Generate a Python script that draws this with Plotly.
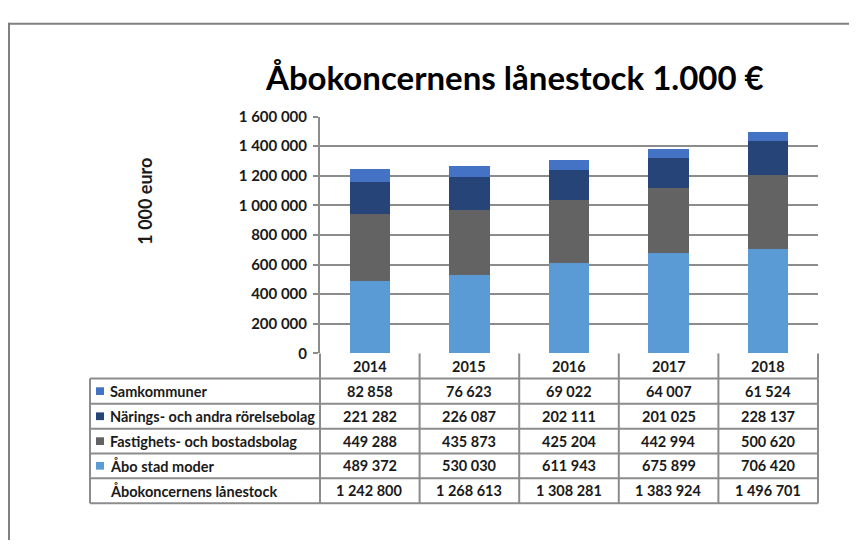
import plotly.graph_objects as go

years = ["2014", "2015", "2016", "2017", "2018"]
series_names = ["Åbo stad moder", "Fastighets- och bostadsbolag",
                "Närings- och andra rörelsebolag", "Samkommuner"]
abo_stad = [489372, 530030, 611943, 675899, 706420]
fastighets = [449288, 435873, 425204, 442994, 500620]
narings = [221282, 226087, 202111, 201025, 228137]
samkommuner = [82858, 76623, 69022, 64007, 61524]
totals = [1242800, 1268613, 1308281, 1383924, 1496701]
total_label = "Åbokoncernens lånestock"
title_text = "Åbokoncernens lånestock 1.000 €"
y_title = "1 000 euro"
y_ticks = [0, 200000, 400000, 600000, 800000, 1000000, 1200000, 1400000, 1600000]

colors = ["#5B9BD5", "#636363", "#264478", "#4472C4"]
values = [abo_stad, fastighets, narings, samkommuner]

W, H = 841, 540
OFF = 8  # page body margin
FONT = "Lato"
TXT = "#1a1a1a"
GRID = "#8c8c8c"


def px(x):
    return (x - OFF) / W


def py(y):
    return 1 - (y - OFF) / H


def fmt(v):
    return f"{v:,}".replace(",", " ")


fig = go.Figure()
for name, vals, col in zip(series_names, values, colors):
    fig.add_trace(go.Bar(x=years, y=vals, name=name,
                         marker=dict(color=col, line=dict(width=0)), width=0.405))

X0, X1 = 320, 818
Y0, Y1 = 355, 110

fig.update_layout(
    width=W, height=H,
    margin=dict(l=0, r=0, t=0, b=0),
    barmode="stack",
    showlegend=False,
    paper_bgcolor="white",
    plot_bgcolor="white",
    separators=", ",
    font=dict(family=FONT, color=TXT),
    xaxis=dict(type="category", domain=[px(X0), px(X1)], range=[-0.5, 4.5],
               showticklabels=False, showgrid=False, zeroline=False,
               showline=False, ticks=""),
    yaxis=dict(domain=[py(Y0), py(Y1)], range=[0, 1600000], tickvals=y_ticks,
               tickformat=",d", showgrid=True, gridcolor=GRID, gridwidth=2,
               zeroline=False, showline=True, linecolor=GRID, linewidth=2,
               ticks="outside", ticklen=5, tickwidth=2, tickcolor=GRID,
               tickfont=dict(family=FONT, size=15, color=TXT, weight="bold"),
               ticklabelstandoff=3),
)

shapes = []
line = dict(color=GRID, width=2)
border = dict(color="#808080", width=2)
# outer chart border (left and top edges visible)
shapes.append(dict(type="line", xref="paper", yref="paper", x0=px(9), x1=px(9),
                   y0=0, y1=py(13), line=border, layer="below"))
shapes.append(dict(type="line", xref="paper", yref="paper", x0=px(8), x1=1,
                   y0=py(14), y1=py(14), line=border, layer="below"))
# header row vertical separators
col_edges = [X0 + i * (X1 - X0) / 5 for i in range(6)]
for xe in col_edges:
    shapes.append(dict(type="line", xref="paper", yref="paper", x0=px(xe), x1=px(xe),
                       y0=py(355), y1=py(381), line=line))
# data rows
row_edges = [381, 407, 433, 458.5, 484, 510]
for ye in row_edges:
    shapes.append(dict(type="line", xref="paper", yref="paper", x0=px(90), x1=px(X1),
                       y0=py(ye), y1=py(ye), line=line))
for xe in [90] + col_edges:
    shapes.append(dict(type="line", xref="paper", yref="paper", x0=px(xe), x1=px(xe),
                       y0=py(381), y1=py(510), line=line))

annotations = []
annotations.append(dict(text=title_text, xref="paper", yref="paper", x=px(515), y=py(69),
                        showarrow=False, xanchor="center", yanchor="middle",
                        font=dict(family=FONT, size=33, color="#000000", weight="bold")))
annotations.append(dict(text=y_title, xref="paper", yref="paper", x=px(145), y=py(198),
                        showarrow=False, textangle=-90, xanchor="center", yanchor="middle",
                        font=dict(family=FONT, size=18, color=TXT, weight="bold")))
for idx, yr in enumerate(years):
    annotations.append(dict(text=yr, xref="x", yref="paper", x=idx, y=py(368),
                            showarrow=False, xanchor="center", yanchor="middle",
                            font=dict(family=FONT, size=14.5, color=TXT, weight="bold")))

row_names = list(reversed(series_names)) + [total_label]
row_vals = list(reversed(values)) + [totals]
row_cols = list(reversed(colors)) + [None]
for i, (nm, vals, col) in enumerate(zip(row_names, row_vals, row_cols)):
    yc = (row_edges[i] + row_edges[i + 1]) / 2
    if col is not None:
        shapes.append(dict(type="rect", xref="paper", yref="paper", x0=px(96), x1=px(104),
                           y0=py(yc + 4), y1=py(yc - 4), fillcolor=col, line=dict(width=0)))
    annotations.append(dict(text=nm, xref="paper", yref="paper", x=px(107.5), y=py(yc),
                            showarrow=False, xanchor="left", yanchor="middle",
                            font=dict(family=FONT, size=14.5, color=TXT, weight="bold")))
    for idx, v in enumerate(vals):
        annotations.append(dict(text=fmt(v), xref="x", yref="paper", x=idx, y=py(yc),
                                showarrow=False, xanchor="center", yanchor="middle",
                                font=dict(family=FONT, size=14.5, color=TXT, weight="bold")))

fig.update_layout(shapes=shapes, annotations=annotations)
fig.write_html("out.html")
